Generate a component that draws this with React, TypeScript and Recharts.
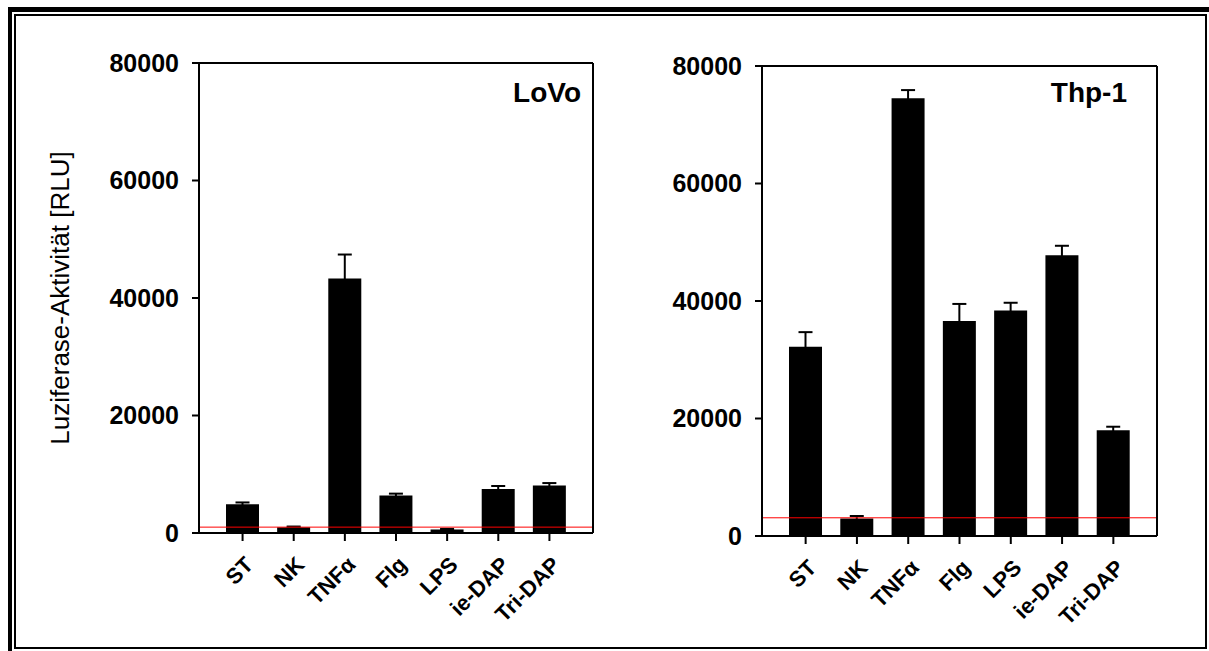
import React from 'react';
import { BarChart, Bar, XAxis, YAxis, ErrorBar, ReferenceLine, Label } from 'recharts';

// Stimulations on the x axis
const categories = ['ST', 'NK', 'TNFα', 'Flg', 'LPS', 'ie-DAP', 'Tri-DAP'];

// LoVo cells: mean luciferase activity and standard deviation [RLU]
const lovoMeans = [4900, 1000, 43300, 6400, 600, 7500, 8100];
const lovoErrors = [300, 100, 4100, 300, 100, 500, 400];

// Thp-1 cells: mean luciferase activity and standard deviation [RLU]
const thpMeans = [32200, 3000, 74500, 36600, 38400, 47800, 18000];
const thpErrors = [2500, 400, 1400, 2900, 1300, 1600, 600];

// Negative-control level drawn as a red line in each panel
const lovoControlLevel = 1000;
const thpControlLevel = 3100;

const yTicks = [0, 20000, 40000, 60000, 80000];
const yDomain: [number, number] = [0, 80000];
const yAxisTitle = 'Luziferase-Aktivität [RLU]';

const FONT = '"Liberation Sans", Arial, Helvetica, sans-serif';

type Row = { name: string; value: number; err: number };

const buildRows = (means: number[], errors: number[]): Row[] =>
  categories.map((name, i) => ({ name, value: means[i], err: errors[i] }));

const CategoryTick = (props: any) => {
  const { x, y, payload } = props;
  const px = x + 12;
  const py = y + 25;
  return (
    <text
      x={px}
      y={py}
      transform={`rotate(-45 ${px} ${py})`}
      textAnchor="end"
      fontFamily={FONT}
      fontWeight="bold"
      fontSize={22}
      fill="#000"
    >
      {payload.value}
    </text>
  );
};

const axisStroke = { stroke: '#000', strokeWidth: 2 };

type PanelProps = {
  rows: Row[];
  controlLevel: number;
  title: string;
  titleInset: number;
  titleDrop: number;
  left: number;
  width: number;
  height: number;
  margin: { top: number; right: number; bottom: number; left: number };
  yAxisWidth: number;
  showYTitle: boolean;
};

const Panel = ({
  rows,
  controlLevel,
  title,
  titleInset,
  titleDrop,
  left,
  width,
  height,
  margin,
  yAxisWidth,
  showYTitle,
}: PanelProps) => {
  const renderTitle = (p: any) => {
    const vb = p.viewBox || {};
    return (
      <text
        x={vb.x - titleInset}
        y={vb.y + titleDrop}
        textAnchor="end"
        fontFamily={FONT}
        fontWeight="bold"
        fontSize={28}
        fill="#000"
      >
        {title}
      </text>
    );
  };

  const renderYTitle = (p: any) => {
    const vb = p.viewBox || {};
    const cx = vb.x + vb.width - 130;
    const cy = vb.y + vb.height / 2;
    return (
      <text
        x={cx}
        y={cy}
        transform={`rotate(-90 ${cx} ${cy})`}
        textAnchor="middle"
        fontFamily={FONT}
        fontSize={26}
        fill="#000"
      >
        {yAxisTitle}
      </text>
    );
  };

  return (
    <div style={{ position: 'absolute', left, top: 0 }}>
      <BarChart width={width} height={height} data={rows} margin={margin}>
        <XAxis
          dataKey="name"
          interval={0}
          height={100}
          padding={{ left: 18, right: 18 }}
          tickSize={8}
          tickMargin={0}
          axisLine={axisStroke}
          tickLine={axisStroke}
          tick={<CategoryTick />}
        />
        <XAxis
          xAxisId="top"
          orientation="top"
          dataKey="name"
          height={1}
          tick={false}
          tickLine={false}
          axisLine={axisStroke}
        />
        <YAxis
          width={yAxisWidth}
          domain={yDomain}
          ticks={yTicks}
          interval={0}
          allowDataOverflow
          tickSize={7}
          tickMargin={13}
          axisLine={axisStroke}
          tickLine={axisStroke}
          tick={{ fontFamily: FONT, fontWeight: 'bold', fontSize: 25, fill: '#000' }}
          label={showYTitle ? <Label content={renderYTitle} /> : undefined}
        />
        <YAxis
          yAxisId="right"
          orientation="right"
          width={1}
          domain={yDomain}
          tick={false}
          tickLine={false}
          axisLine={axisStroke}
          label={<Label content={renderTitle} />}
        />
        <Bar dataKey="value" fill="#000" barSize={33} isAnimationActive={false}>
          <ErrorBar dataKey="err" width={7} stroke="#000" strokeWidth={2} direction="y" />
        </Bar>
        <ReferenceLine
          y={controlLevel}
          xAxisId="top"
          stroke="#ff0000"
          strokeWidth={1}
          ifOverflow="extendDomain"
        />
      </BarChart>
    </div>
  );
};

const lovoRows = buildRows(lovoMeans, lovoErrors);
const thpRows = buildRows(thpMeans, thpErrors);

export default function App() {
  return (
    <div
      style={{
        position: 'relative',
        width: 1209,
        height: 651,
        background: '#fff',
        fontFamily: FONT,
        overflow: 'hidden',
      }}
    >
      <style>{'html,body{margin:0;overflow:hidden}'}</style>
      <div style={{ position: 'absolute', left: 8, top: 8, width: 1201, height: 643 }}>
        <Panel
          rows={lovoRows}
          controlLevel={lovoControlLevel}
          title="LoVo"
          titleInset={12}
          titleDrop={39}
          left={0}
          width={620}
          height={643}
          margin={{ top: 54, right: 34, bottom: 18, left: 0 }}
          yAxisWidth={191}
          showYTitle
        />
        <Panel
          rows={thpRows}
          controlLevel={thpControlLevel}
          title="Thp-1"
          titleInset={30}
          titleDrop={36}
          left={630}
          width={560}
          height={643}
          margin={{ top: 57, right: 40, bottom: 15, left: 0 }}
          yAxisWidth={124}
          showYTitle={false}
        />
        {/* double frame around the figure */}
        <div style={{ position: 'absolute', left: 0, top: -1, width: 1201, height: 5, background: '#000' }} />
        <div style={{ position: 'absolute', left: 0, top: -1, width: 4, height: 644, background: '#000' }} />
        <div
          style={{
            position: 'absolute',
            left: 6,
            top: 6,
            width: 1193,
            height: 635,
            border: '2px solid #000',
            boxSizing: 'border-box',
            pointerEvents: 'none',
          }}
        />
      </div>
    </div>
  );
}
